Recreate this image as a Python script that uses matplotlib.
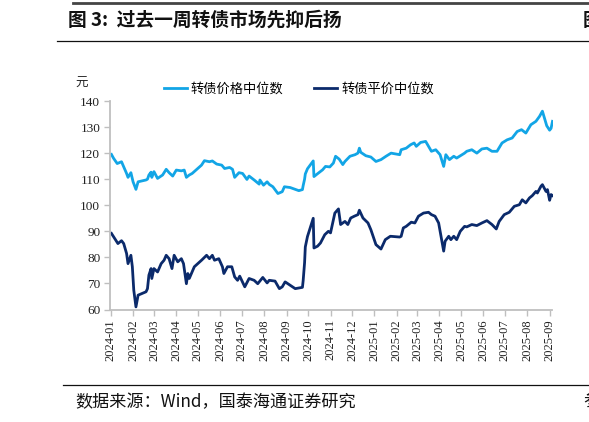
import matplotlib
matplotlib.use("Agg")
import matplotlib.pyplot as plt
import matplotlib.dates as mdates
import pandas as pd
from matplotlib.lines import Line2D

# ---------------- data ----------------
price_dates = [
    "2024-01-02", "2024-01-05", "2024-01-10", "2024-01-16", "2024-01-18", "2024-01-23", "2024-01-25",
    "2024-01-29", "2024-02-01", "2024-02-05", "2024-02-08", "2024-02-19", "2024-02-21", "2024-02-23",
    "2024-02-26", "2024-02-27", "2024-03-01", "2024-03-06", "2024-03-13", "2024-03-18", "2024-03-22",
    "2024-03-27", "2024-04-01", "2024-04-08", "2024-04-12", "2024-04-15", "2024-04-19", "2024-04-23",
    "2024-05-06", "2024-05-10", "2024-05-17", "2024-05-21", "2024-05-27", "2024-06-03", "2024-06-07",
    "2024-06-14", "2024-06-18", "2024-06-21", "2024-06-27", "2024-07-02", "2024-07-08", "2024-07-11",
    "2024-07-18", "2024-07-25", "2024-07-26", "2024-07-31", "2024-08-05", "2024-08-08", "2024-08-13",
    "2024-08-20", "2024-08-26", "2024-08-29", "2024-09-06", "2024-09-13", "2024-09-18", "2024-09-23",
    "2024-09-24", "2024-09-26", "2024-09-27", "2024-09-30", "2024-10-08", "2024-10-09", "2024-10-14",
    "2024-10-21", "2024-10-25", "2024-10-31", "2024-11-05", "2024-11-08", "2024-11-13", "2024-11-18",
    "2024-11-21", "2024-11-28", "2024-12-05", "2024-12-09", "2024-12-11", "2024-12-13", "2024-12-20",
    "2024-12-27", "2025-01-03", "2025-01-10", "2025-01-17", "2025-01-24", "2025-02-05", "2025-02-07",
    "2025-02-14", "2025-02-20", "2025-02-25", "2025-02-28", "2025-03-06", "2025-03-13", "2025-03-17",
    "2025-03-21", "2025-03-27", "2025-04-02", "2025-04-07", "2025-04-10", "2025-04-15", "2025-04-21",
    "2025-04-25", "2025-05-06", "2025-05-09", "2025-05-16", "2025-05-23", "2025-05-30", "2025-06-06",
    "2025-06-13", "2025-06-20", "2025-06-27", "2025-07-04", "2025-07-11", "2025-07-18", "2025-07-24",
    "2025-07-30", "2025-08-06", "2025-08-13", "2025-08-18", "2025-08-22", "2025-08-28", "2025-09-01",
    "2025-09-03", "2025-09-05",
]
price_values = [
    119.5, 118.0, 116.0, 116.7, 115.4, 112.2, 110.7,
    112.5, 109.0, 106.1, 109.0, 109.7, 110.0, 111.6,
    112.7, 110.7, 112.9, 110.3, 111.6, 113.8, 112.5,
    111.2, 113.5, 113.2, 113.5, 110.7, 111.6, 112.2,
    115.4, 117.1, 116.7, 117.0, 115.8, 115.4, 114.1,
    114.5, 113.8, 110.7, 112.5, 112.2, 109.9, 111.2,
    109.7, 108.1, 109.7, 107.7, 109.0, 108.0, 107.1,
    104.5, 105.2, 107.1, 106.8, 106.1, 105.6, 106.0,
    107.5, 110.0, 112.0, 114.0, 117.0, 111.0, 112.1,
    113.6, 114.9, 114.7, 116.2, 118.8, 117.7, 115.6,
    116.8, 118.8, 119.4, 120.0, 121.9, 120.3, 119.0,
    118.5, 116.8, 117.5, 118.8, 120.0, 119.4, 121.3,
    121.9, 123.2, 123.9, 122.6, 124.1, 124.5, 122.6,
    120.7, 121.3, 119.4, 114.9, 119.4, 117.5, 118.8,
    118.1, 120.0, 120.7, 121.3, 120.0, 121.6, 121.9,
    120.7, 120.7, 123.9, 125.1, 125.8, 128.3, 129.0,
    127.7, 130.9, 132.2, 134.1, 136.1, 130.5, 128.8,
    129.5, 132.2,
]

parity_dates = [
    "2024-01-02", "2024-01-05", "2024-01-11", "2024-01-16", "2024-01-19", "2024-01-23", "2024-01-25",
    "2024-01-29", "2024-01-31", "2024-02-02", "2024-02-05", "2024-02-08", "2024-02-19", "2024-02-21",
    "2024-02-23", "2024-02-26", "2024-02-27", "2024-03-01", "2024-03-06", "2024-03-11", "2024-03-15",
    "2024-03-18", "2024-03-22", "2024-03-26", "2024-03-29", "2024-04-03", "2024-04-08", "2024-04-11",
    "2024-04-15", "2024-04-17", "2024-04-19", "2024-04-26", "2024-05-06", "2024-05-13", "2024-05-17",
    "2024-05-21", "2024-05-24", "2024-05-30", "2024-06-04", "2024-06-06", "2024-06-11", "2024-06-17",
    "2024-06-21", "2024-06-25", "2024-06-28", "2024-07-05", "2024-07-11", "2024-07-18", "2024-07-23",
    "2024-07-30", "2024-08-05", "2024-08-08", "2024-08-16", "2024-08-22", "2024-08-26", "2024-08-30",
    "2024-09-06", "2024-09-13", "2024-09-23", "2024-09-24", "2024-09-26", "2024-09-27", "2024-09-30",
    "2024-10-08", "2024-10-09", "2024-10-14", "2024-10-18", "2024-10-24", "2024-10-29", "2024-11-01",
    "2024-11-07", "2024-11-12", "2024-11-15", "2024-11-21", "2024-11-25", "2024-11-29", "2024-12-04",
    "2024-12-09", "2024-12-11", "2024-12-16", "2024-12-23", "2024-12-27", "2025-01-03", "2025-01-10",
    "2025-01-16", "2025-01-23", "2025-02-05", "2025-02-07", "2025-02-10", "2025-02-14", "2025-02-21",
    "2025-02-26", "2025-03-03", "2025-03-10", "2025-03-17", "2025-03-21", "2025-03-26", "2025-03-31",
    "2025-04-07", "2025-04-09", "2025-04-14", "2025-04-17", "2025-04-21", "2025-04-25", "2025-04-30",
    "2025-05-06", "2025-05-09", "2025-05-16", "2025-05-23", "2025-05-30", "2025-06-06", "2025-06-13",
    "2025-06-19", "2025-06-23", "2025-06-30", "2025-07-07", "2025-07-14", "2025-07-21", "2025-07-25",
    "2025-07-30", "2025-08-04", "2025-08-08", "2025-08-13", "2025-08-15", "2025-08-20", "2025-08-22",
    "2025-08-27", "2025-08-29", "2025-09-01", "2025-09-03", "2025-09-05",
]
parity_values = [
    89.2, 87.9, 85.3, 86.4, 85.3, 81.5, 77.6,
    80.8, 76.4, 67.4, 61.0, 65.5, 66.8, 68.0,
    73.2, 75.7, 71.9, 75.7, 74.4, 77.6, 78.9,
    80.8, 79.5, 75.7, 80.8, 78.3, 79.5, 77.6,
    69.9, 73.8, 71.9, 76.4, 78.9, 80.8, 79.5,
    80.8, 78.9, 79.5, 76.4, 73.8, 76.4, 76.4,
    72.5, 71.2, 72.8, 68.7, 71.9, 71.2, 69.9,
    72.3, 70.2, 71.2, 70.9, 68.0, 68.7, 70.6,
    69.3, 68.0, 68.5, 71.0, 78.0, 84.0, 88.0,
    95.0, 83.6, 84.3, 85.5, 88.7, 90.0, 89.4,
    97.0, 98.6, 92.6, 93.8, 92.6, 95.1, 95.8,
    96.4, 98.1, 95.1, 93.2, 90.6, 84.9, 83.2,
    86.8, 88.1, 87.8, 88.1, 91.3, 91.9, 93.5,
    93.2, 95.8, 97.0, 97.3, 96.4, 95.8, 93.2,
    82.4, 86.2, 88.1, 86.8, 88.1, 86.8, 90.0,
    91.9, 91.7, 92.6, 92.2, 93.2, 94.1, 92.6,
    90.9, 93.8, 96.4, 97.3, 99.6, 100.2, 102.1,
    100.9, 102.8, 103.7, 105.3, 104.7, 107.3, 107.9,
    105.3, 106.0, 101.9, 104.1, 103.7,
]

series_labels = ["转债价格中位数", "转债平价中位数"]
series_colors = ["#12A5E6", "#0B2A6B"]
yticks = [60, 70, 80, 90, 100, 110, 120, 130, 140]

title_text = "图 3:  过去一周转债市场先抑后扬"
unit_text = "元"
source_text = "数据来源：Wind，国泰海通证券研究"

# ---------------- figure ----------------
CJK = ["Noto Sans CJK SC", "DejaVu Sans"]
SERIF = ["Liberation Serif", "DejaVu Serif"]

W, H = 589, 422
fig = plt.figure(figsize=(W / 100, H / 100), dpi=100)
fig.patch.set_facecolor("white")

ax = fig.add_axes([110 / W, 1 - 309.5 / H, 442.5 / W, 208.5 / H])

pdates = pd.to_datetime(price_dates)
qdates = pd.to_datetime(parity_dates)
ax.plot(pdates, price_values, color=series_colors[0], lw=2.0, solid_joinstyle="round")
ax.plot(qdates, parity_values, color=series_colors[1], lw=2.0, solid_joinstyle="round")

ax.set_xlim(pd.Timestamp("2023-12-31"), pd.Timestamp("2025-09-05"))
ax.set_ylim(60, 140)
ax.set_yticks(yticks)
ax.xaxis.set_major_locator(mdates.MonthLocator())
ax.xaxis.set_major_formatter(mdates.DateFormatter("%Y-%m"))

for s in ["top", "right"]:
    ax.spines[s].set_visible(False)
for s in ["left", "bottom"]:
    ax.spines[s].set_color("#BFBFBF")
    ax.spines[s].set_linewidth(1.3)

ax.tick_params(axis="both", direction="out", length=4, width=1, color="#BFBFBF", pad=3)
for lbl in ax.get_yticklabels():
    lbl.set_fontfamily(SERIF)
    lbl.set_fontsize(9.5)
    lbl.set_color("#222222")
for lbl in ax.get_xticklabels():
    lbl.set_fontfamily(SERIF)
    lbl.set_fontsize(9)
    lbl.set_rotation(90)
    lbl.set_color("#222222")

# legend
handles = [Line2D([], [], color=c, lw=2.0) for c in series_colors]
leg = fig.legend(handles, series_labels, ncol=2, frameon=False,
                 loc="center left", bbox_to_anchor=(152 / W, 1 - 89 / H),
                 prop={"family": CJK, "size": 9.5},
                 handlelength=1.75, handletextpad=0.3, columnspacing=2.3)

fig.text(75 / W, 1 - 83 / H, unit_text, fontfamily=CJK, fontsize=9, ha="left", va="center",
         color="#222222")

# title & rules
fig.text(68 / W, 1 - 20 / H, title_text, fontfamily=CJK, fontsize=13.5, fontweight="bold",
         ha="left", va="center", color="#111111")
fig.add_artist(Line2D([73 / W, 1.0], [1 - 3 / H, 1 - 3 / H], transform=fig.transFigure,
                      color="#444444", lw=2.0))
fig.add_artist(Line2D([57 / W, 1.0], [1 - 41 / H, 1 - 41 / H], transform=fig.transFigure,
                      color="#111111", lw=0.9))
fig.add_artist(Line2D([63 / W, 1.0], [1 - 385 / H, 1 - 385 / H], transform=fig.transFigure,
                      color="#111111", lw=0.9))

fig.text(75 / W, 1 - 402 / H, source_text, fontfamily=CJK, fontsize=12.3, ha="left",
         va="center", color="#111111")

# cropped fragments of the neighbouring chart at the right edge
fig.text(583 / W, 1 - 20 / H, "图", fontfamily=CJK, fontsize=13.5, fontweight="bold",
         ha="left", va="center", color="#111111")
fig.text(583 / W, 1 - 402 / H, "参", fontfamily=CJK, fontsize=12.3, ha="left",
         va="center", color="#111111")

fig.savefig("out.png", dpi=100, facecolor="white")
